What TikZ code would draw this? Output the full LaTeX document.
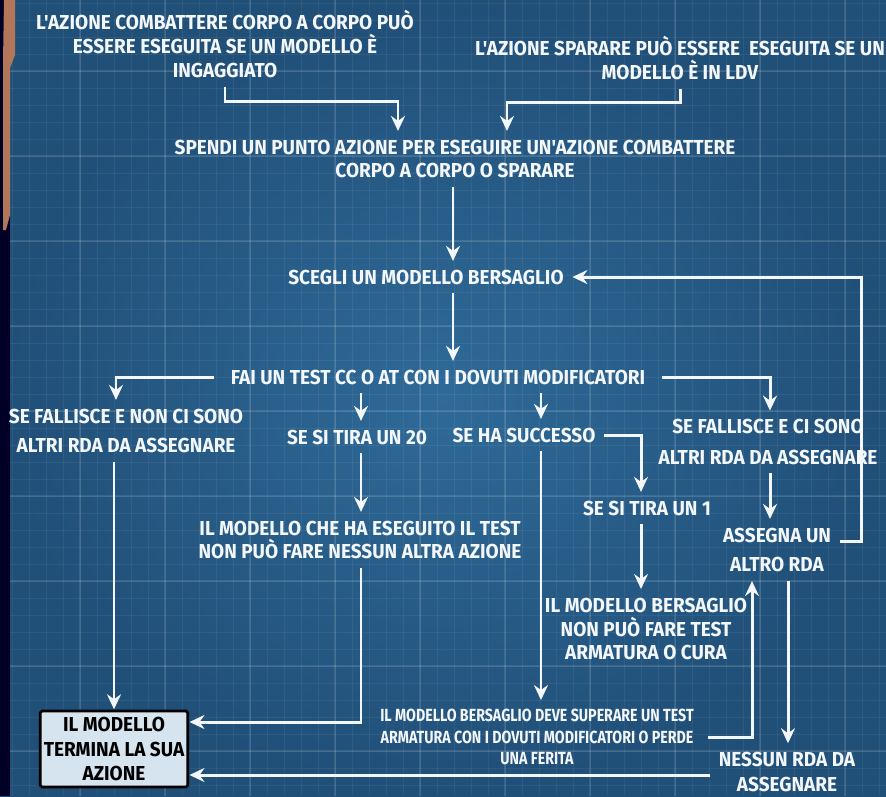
\documentclass[tikz,border=0pt]{standalone}
\usepackage{fontspec}
\usetikzlibrary{arrows.meta,calc}

\newfontfamily\diagfont{Fira Sans}[FakeStretch=0.94]
\newfontfamily\narrowfont{Fira Sans}[FakeStretch=0.81]

\definecolor{bluecenter}{RGB}{47,106,152}
\definecolor{blueedge}{RGB}{32,79,120}
\definecolor{chalk}{RGB}{243,247,250}
\definecolor{boxfill}{RGB}{214,228,240}
\definecolor{copper}{RGB}{178,118,90}

\begin{document}
\begin{tikzpicture}[x=0.02cm,y=-0.02cm,  % one unit = one pixel of the sheet
    >={Stealth[length=3mm,width=2.8mm,inset=1mm]},
    txt/.style={text=chalk, align=center, inner sep=0pt, outer sep=5pt,
        font=\diagfont\bfseries\fontsize{11.5}{13.6}\selectfont},
    small/.style={txt, font=\narrowfont\bfseries\fontsize{10}{12.4}\selectfont},
    endbox/.style={draw=black, fill=boxfill, line width=1.5pt, rounded corners=1pt,
        minimum width=2.92cm, minimum height=1.52cm, inner sep=2pt, outer sep=1pt,
        align=center, text=black, font=\diagfont\bfseries\fontsize{11.5}{14.2}\selectfont},
    flow/.style={draw=chalk, line width=1.7pt, ->},
    gridline/.style={draw=white, opacity=0.06, line width=0.5pt},
    majorline/.style={draw=white, opacity=0.11, line width=0.7pt}]

    % Sheet, grid and the frame on the left
    \useasboundingbox (0,0) rectangle (886,796);
    \shade[inner color=bluecenter, outer color=blueedge] (0,0) rectangle (886,796);
    \foreach \gx in {12,29,...,886} \draw[gridline] (\gx,0) -- (\gx,796);
    \foreach \gy in {3,20,...,796} \draw[gridline] (0,\gy) -- (886,\gy);
    \foreach \gx in {80,165,...,886} \draw[majorline] (\gx,0) -- (\gx,796);
    \foreach \gy in {71,156,...,796} \draw[majorline] (0,\gy) -- (886,\gy);
    \fill[black!85!blue] (0,0) rectangle (10,796);
    \fill[copper] (4,0) -- (15,0) -- (15,55) -- (10,68) -- (10,215) -- (6,230) -- (3,230) -- (3,62) -- cycle;

    % Conditions at the top
    \node[txt] (cc) at (225,44) {L'AZIONE COMBATTERE CORPO A CORPO PUÒ\\ESSERE ESEGUITA SE UN MODELLO È\\INGAGGIATO};
    \node[txt] (spa) at (680,58) {L'AZIONE SPARARE PUÒ ESSERE\ \ ESEGUITA SE UN\\MODELLO È IN LDV};

    % Main column
    \node[txt] (spendi) at (455,159) {SPENDI UN PUNTO AZIONE PER ESEGUIRE UN'AZIONE COMBATTERE\\CORPO A CORPO O SPARARE};
    \node[txt] (scegli) at (426,277) {SCEGLI UN MODELLO BERSAGLIO};
    \node[txt] (test) at (438,377) {FAI UN TEST CC O AT CON I DOVUTI MODIFICATORI};

    % Outcomes of the test
    \node[txt] (failno) at (126,431) {SE FALLISCE E NON CI SONO\\[3.4pt]ALTRI RDA DA ASSEGNARE};
    \node[txt] (venti) at (357,437) {SE SI TIRA UN 20};
    \node[txt] (succ) at (524,435) {SE HA SUCCESSO};
    \node[txt] (failsi) at (768,442) {SE FALLISCE E CI SONO\\[3.8pt]ALTRI RDA DA ASSEGNARE};
    \node[txt] (uno) at (647,508) {SE SI TIRA UN 1};
    \node[txt] (stop) at (360,540) {IL MODELLO CHE HA ESEGUITO IL TEST\\NON PUÒ FARE NESSUN ALTRA AZIONE};
    \node[txt] (assegna) at (777,550) {ASSEGNA UN\\[3.4pt]ALTRO RDA};
    \node[txt] (nocura) at (646,629) {IL MODELLO BERSAGLIO\\NON PUÒ FARE TEST\\ARMATURA O CURA};
    \node[small] (armat) at (537,737) {IL MODELLO BERSAGLIO DEVE SUPERARE UN TEST\\ARMATURA CON I DOVUTI MODIFICATORI O PERDE\\UNA FERITA};
    \node[txt] (nessun) at (787,772) {NESSUN RDA DA\\[0.8pt]ASSEGNARE};
    \node[endbox] (fine) at (114,749) {IL MODELLO\\TERMINA LA SUA\\AZIONE};

    % Connectors
    \draw[flow] (cc.south) -- ++(0,15) -| (spendi.north -| 398,0);
    \draw[flow] (spa.south) -- ++(0,14) -| (spendi.north -| 507,0);
    \draw[flow] (spendi.south -| 453,0) -- (scegli.north -| 453,0);
    \draw[flow] (scegli.south -| 453,0) -- (test.north -| 453,0);
    \draw[flow] ($(test.west)+(-8,0)$) -| (failno.north -| 116,0);
    \draw[flow] ($(test.east)+(8,0)$) -| (failsi.north -| 770,0);
    \draw[flow] (test.south -| 361,0) -- (venti.north -| 361,0);
    \draw[flow] (test.south -| 541,0) -- (succ.north -| 541,0);
    \draw[flow] (failno.south -| fine.north) -- (fine.north);
    \draw[flow] (venti.south -| 361,0) -- (stop.north -| 361,0);
    \draw[flow] (stop.south -| 361,0) |- (fine.east |- 0,722);
    \draw[flow] (succ.east) -| (uno.north -| 641,0);
    \draw[flow] (succ.south -| 541,0) -- (armat.north -| 541,0);
    \draw[flow] (uno.south -| 641,0) -- (nocura.north -| 641,0);
    \draw[flow] (failsi.south -| 770,0) -- (assegna.north -| 770,0);
    \draw[flow] ($(armat.east |- 0,737)+(6,0)$) -| (assegna.south -| 752,0);
    \draw[flow] (assegna.south -| 788,0) -- (nessun.north -| 788,0);
    \draw[flow] (nessun.west |- 0,775) -- (fine.east |- 0,775);
    \draw[flow] ($(assegna.east)+(0,-9)$) -- ++(22,0) |- (scegli.east);  % back to the choice of target
\end{tikzpicture}
\end{document}
